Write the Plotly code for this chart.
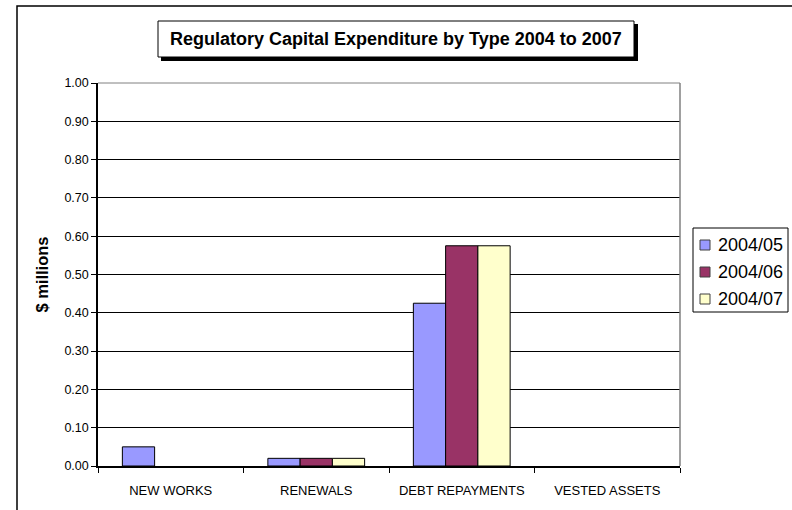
import plotly.graph_objects as go

categories = ["NEW WORKS", "RENEWALS", "DEBT REPAYMENTS", "VESTED ASSETS"]
series_names = ["2004/05", "2004/06", "2004/07"]
values_0405 = [0.05, 0.02, 0.425, 0.0]
values_0406 = [0.0, 0.02, 0.575, 0.0]
values_0407 = [0.0, 0.02, 0.575, 0.0]
series_colors = ["#9999FF", "#993366", "#FFFFCC"]
y_ticks = [0.0, 0.1, 0.2, 0.3, 0.4, 0.5, 0.6, 0.7, 0.8, 0.9, 1.0]

W, H = 792, 510
L, R, T, B = 98, 112, 83, 44
pw, ph = W - L - R, H - T - B


def px(x):
    return (x - L) / pw


def py(y):
    return (H - B - y) / ph


fig = go.Figure()
for name, vals, col in zip(series_names, [values_0405, values_0406, values_0407], series_colors):
    fig.add_trace(go.Bar(
        x=categories, y=vals, name=name,
        marker=dict(color=col,
                    line=dict(color="black", width=[1 if v > 0 else 0 for v in vals])),
    ))

font = "Arial, Liberation Sans, sans-serif"
shapes = [
    # outer chart frame
    dict(type="rect", xref="paper", yref="paper", x0=px(17), x1=px(800), y0=py(6), y1=py(520),
         line=dict(color="black", width=1.5), fillcolor="rgba(0,0,0,0)", layer="below"),
    # plot area frame (top and right)
    dict(type="line", xref="paper", yref="paper", x0=0, x1=1, y0=1, y1=1,
         line=dict(color="#808080", width=1)),
    dict(type="line", xref="paper", yref="paper", x0=1, x1=1, y0=0, y1=1,
         line=dict(color="#808080", width=1.5)),
    # title box shadow and box
    dict(type="rect", xref="paper", yref="paper", x0=px(161), x1=px(638), y0=py(24), y1=py(61),
         line=dict(width=0), fillcolor="black"),
    dict(type="rect", xref="paper", yref="paper", x0=px(158), x1=px(634), y0=py(21), y1=py(57),
         line=dict(color="black", width=1), fillcolor="white"),
    # legend box
    dict(type="rect", xref="paper", yref="paper", x0=px(693), x1=px(788), y0=py(228), y1=py(312),
         line=dict(color="black", width=1), fillcolor="white"),
]

annotations = [dict(text="<b>Regulatory Capital Expenditure by Type 2004 to 2007</b>",
                    xref="paper", yref="paper", x=px(396), y=py(39),
                    xanchor="center", yanchor="middle", showarrow=False,
                    font=dict(size=18, family=font))]

# legend entries: colour swatch + series name
for i, (name, col) in enumerate(zip(series_names, series_colors)):
    cy = 245 + 27 * i
    shapes.append(dict(type="rect", xref="paper", yref="paper",
                       x0=px(700), x1=px(710), y0=py(cy - 5), y1=py(cy + 5),
                       line=dict(color="#404040", width=1), fillcolor=col))
    annotations.append(dict(text=name, xref="paper", yref="paper",
                            x=px(716), y=py(cy), xanchor="left", yanchor="middle",
                            showarrow=False, font=dict(size=18, family=font)))

fig.update_layout(
    width=W, height=H,
    margin=dict(l=L, r=R, t=T, b=B, autoexpand=False),
    paper_bgcolor="white", plot_bgcolor="white",
    barmode="group", bargap=0.335, bargroupgap=0,
    font=dict(family=font, color="black", size=12),
    showlegend=False,
    shapes=shapes,
    annotations=annotations,
    xaxis=dict(type="category", showgrid=False, tickson="boundaries",
               ticks="outside", ticklen=5, tickcolor="black",
               showline=True, linecolor="black", linewidth=1.5,
               tickfont=dict(size=13), ticklabelstandoff=12, fixedrange=True),
    yaxis=dict(range=[0, 1.0], tickvals=y_ticks, tickformat=".2f",
               ticks="outside", ticklen=5, tickcolor="black",
               showgrid=True, gridcolor="black", gridwidth=1,
               zeroline=False, showline=True, linecolor="black", linewidth=1.5,
               tickfont=dict(size=12.5),
               title=dict(text="<b>$ millions</b>", font=dict(size=16.5), standoff=12)),
)

fig.write_html("out.html")
